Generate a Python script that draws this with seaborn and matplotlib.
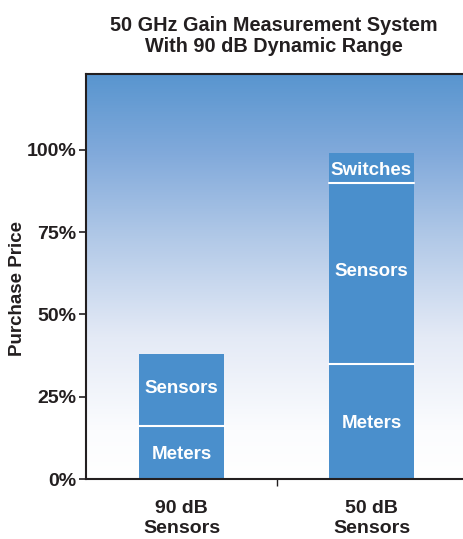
import numpy as np
import pandas as pd
import seaborn as sns
import matplotlib.pyplot as plt
from matplotlib.colors import LinearSegmentedColormap

# data (percent of purchase price)
systems = ['90 dB\nSensors', '50 dB\nSensors']
meters = [16, 35]
sensors = [22, 55]
switches = [0, 9]
yticks = [0, 25, 50, 75, 100]
title = '50 GHz Gain Measurement System\nWith 90 dB Dynamic Range'

BAR_COLOR = '#4a8fcc'
TEXT = '#231f20'

sns.set_theme(style='white')
plt.rcParams['font.family'] = ['Liberation Sans', 'DejaVu Sans']

df = pd.DataFrame({'system': systems, 'Meters': meters,
                   'Sensors': sensors, 'Switches': switches})
df['m_s'] = df['Meters'] + df['Sensors']
df['total'] = df['m_s'] + df['Switches']

fig = plt.figure(figsize=(4.63, 5.39), dpi=100)
ax = fig.add_axes([0.1857, 0.1113, 0.8143, 0.7514])

# gradient background
cmap = LinearSegmentedColormap.from_list('bg', [
    (0.0, '#ffffff'), (0.12, '#fbfcfe'), (0.35, '#e4eaf6'),
    (0.6, '#b0c8e7'), (0.8, '#82aadb'), (1.0, '#5895cf')])
grad = np.linspace(0, 1, 256).reshape(-1, 1)
ax.imshow(grad, cmap=cmap, aspect='auto', origin='lower',
          extent=[0, 1, 0, 1], transform=ax.transAxes, zorder=0)

# stacked bars, drawn back to front
for col in ['total', 'm_s', 'Meters']:
    sns.barplot(data=df, x='system', y=col, color=BAR_COLOR, width=0.447,
                saturation=1, ax=ax, zorder=2, edgecolor='none')

# white separators and segment labels
for i, row in df.iterrows():
    bounds = [row['Meters']]
    if row['Switches'] > 0:
        bounds.append(row['m_s'])
    for b in bounds:
        ax.plot([i - 0.2235, i + 0.2235], [b, b], color='white', lw=1.5, zorder=3)
    ax.text(i, row['Meters'] / 2 - 0.5, 'Meters', color='white', weight='bold',
            fontsize=13.5, ha='center', va='center', zorder=4)
    ax.text(i, row['Meters'] + row['Sensors'] / 2 + 0.5, 'Sensors', color='white',
            weight='bold', fontsize=13.5, ha='center', va='center', zorder=4)
    if row['Switches'] > 0:
        ax.text(i, row['m_s'] + row['Switches'] / 2 - 0.7, 'Switches', color='white',
                weight='bold', fontsize=13.5, ha='center', va='center', zorder=4)

ax.set_xlim(-0.503, 1.4816)
ax.set_ylim(0, 123)
ax.set_yticks(yticks)
ax.set_yticklabels([f'{t}%' for t in yticks], fontsize=14, weight='bold', color=TEXT)
ax.set_xticks([0.5])
ax.set_xticklabels([''])
ax.tick_params(axis='y', direction='out', length=5, width=1.2, color=TEXT, pad=2, left=True)
ax.tick_params(axis='x', direction='out', length=5, width=1, color=TEXT, bottom=True)
for i, s in enumerate(systems):
    ax.text(i, -0.052, s, transform=ax.get_xaxis_transform(), ha='center', va='top',
            fontsize=14, weight='bold', color=TEXT, linespacing=1.2)

ax.set_xlabel('')
ax.set_ylabel('Purchase Price', fontsize=13.5, weight='bold', color=TEXT)
ax.yaxis.set_label_coords(-0.16, 0.47)

for side in ['left', 'bottom', 'top']:
    ax.spines[side].set_color(TEXT)
    ax.spines[side].set_linewidth(1.5)
ax.spines['right'].set_visible(False)

fig.text(0.592, 0.97, title, ha='center', va='top', fontsize=14.3,
         weight='bold', color=TEXT, linespacing=1.12)

fig.savefig('out.png', dpi=100)
